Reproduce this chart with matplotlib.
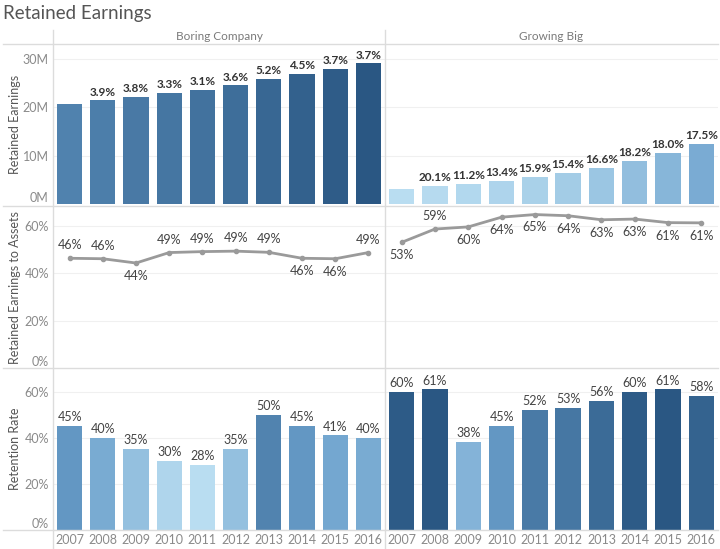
import matplotlib
matplotlib.use("Agg")
import matplotlib.pyplot as plt
from matplotlib.colors import LinearSegmentedColormap, Normalize
from matplotlib.lines import Line2D

plt.rcParams['font.family'] = ['Lato', 'DejaVu Sans']

years = ["2007", "2008", "2009", "2010", "2011", "2012", "2013", "2014", "2015", "2016"]
companies = ["Boring Company", "Growing Big"]

# retained earnings, millions
earn_boring = [20.6, 21.4, 22.2, 22.9, 23.6, 24.5, 25.8, 26.9, 27.9, 29.0]
earn_growing = [3.2, 3.8, 4.25, 4.85, 5.6, 6.5, 7.6, 9.0, 10.6, 12.5]
growth_boring = ["", "3.9%", "3.8%", "3.3%", "3.1%", "3.6%", "5.2%", "4.5%", "3.7%", "3.7%"]
growth_growing = ["", "20.1%", "11.2%", "13.4%", "15.9%", "15.4%", "16.6%", "18.2%", "18.0%", "17.5%"]

# retained earnings to assets, %
rta_boring = [46.4, 46.2, 44.4, 48.8, 49.2, 49.4, 48.9, 46.4, 46.2, 48.8]
rta_growing = [53.1, 58.7, 59.6, 63.7, 64.8, 64.3, 62.6, 62.9, 61.4, 61.3]
rta_pos_boring = ["a", "a", "b", "a", "a", "a", "a", "b", "b", "a"]
rta_pos_growing = ["b", "a", "b", "b", "b", "b", "b", "b", "b", "b"]

# retention rate, %
ret_boring = [45, 40, 35, 30, 28, 35, 50, 45, 41, 40]
ret_growing = [60, 61, 38, 45, 52, 53, 56, 60, 61, 58]

W, H = 720, 549
fig = plt.figure(figsize=(7.2, 5.49), dpi=100)

cmap = LinearSegmentedColormap.from_list("tab_blue", [(0, "#b9ddf1"), (0.45, "#6a9fcb"), (1, "#2a5783")])
norm_earn = Normalize(min(earn_growing), max(earn_boring))
norm_ret = Normalize(min(ret_boring + ret_growing), max(ret_boring + ret_growing))

TICK = "#8a8a8a"
TXT = "#444444"
GRID = "#f0f0f0"
LINE = "#dcdcdc"


def px_axes(x0, y0, x1, y1):
    return fig.add_axes([x0 / W, 1 - y1 / H, (x1 - x0) / W, (y1 - y0) / H])


def clean(ax, ymax, ticks, tlabels, left):
    ax.set_xlim(-0.5, 9.5)
    ax.set_ylim(0, ymax)
    for s in ax.spines.values():
        s.set_visible(False)
    ax.set_xticks([])
    ax.set_yticks(ticks)
    for t in ticks:
        ax.axhline(t, color=GRID, lw=0.8, zorder=0)
    if left:
        ax.set_yticklabels(tlabels, color=TICK, fontsize=9)
        ax.tick_params(axis="y", length=0, pad=3)
        ax.get_yticklabels()[0].set_va("bottom")
    else:
        ax.set_yticklabels([])
        ax.tick_params(axis="y", length=0)
    ax.patch.set_alpha(0)


xl0, xmid, xr1 = 53, 385, 718
rows = [(45, 204.5), (206, 368.5), (368, 529.5)]
xs = range(len(years))

# top: retained earnings
for col, (vals, labs) in enumerate([(earn_boring, growth_boring), (earn_growing, growth_growing)]):
    x0, x1 = (xl0, xmid) if col == 0 else (xmid, xr1)
    ax = px_axes(x0, rows[0][0], x1, rows[0][1])
    clean(ax, 32.8, [0, 10, 20, 30], ["0M", "10M", "20M", "30M"], col == 0)
    ax.bar(xs, vals, width=0.76, color=[cmap(norm_earn(v)) for v in vals], zorder=2)
    for i, (v, l) in enumerate(zip(vals, labs)):
        if l:
            ax.annotate(l, (i, v), xytext=(0, 2), textcoords="offset points", ha="center", va="bottom",
                        fontsize=8.5, fontweight="bold", color="#333333")
    if col == 0:
        ax.set_ylabel("Retained Earnings", color="#555555", fontsize=9)

# middle: retained earnings to assets
for col, (vals, pos) in enumerate([(rta_boring, rta_pos_boring), (rta_growing, rta_pos_growing)]):
    x0, x1 = (xl0, xmid) if col == 0 else (xmid, xr1)
    ax = px_axes(x0, rows[1][0], x1, rows[1][1])
    clean(ax, 68.4, [0, 20, 40, 60], ["0%", "20%", "40%", "60%"], col == 0)
    ax.plot(xs, vals, color="#9a9a9a", lw=2, marker="o", ms=3, zorder=3, clip_on=False)
    for i, (v, p) in enumerate(zip(vals, pos)):
        dy = 5 if p == "a" else -5
        ax.annotate(f"{round(v)}%", (i, v), xytext=(0, dy), textcoords="offset points", ha="center",
                    va="bottom" if p == "a" else "top", fontsize=9, color=TXT)
    if col == 0:
        ax.set_ylabel("Retained Earnings to Assets", color="#555555", fontsize=9)

# bottom: retention rate
for col, vals in enumerate([ret_boring, ret_growing]):
    x0, x1 = (xl0, xmid) if col == 0 else (xmid, xr1)
    ax = px_axes(x0, rows[2][0], x1, rows[2][1])
    clean(ax, 70.3, [0, 20, 40, 60], ["0%", "20%", "40%", "60%"], col == 0)
    ax.bar(xs, vals, width=0.76, color=[cmap(norm_ret(v)) for v in vals], zorder=2)
    for i, v in enumerate(vals):
        ax.annotate(f"{v}%", (i, v), xytext=(0, 2), textcoords="offset points", ha="center", va="bottom",
                    fontsize=9, color=TXT)
    ax.set_xticks(list(xs))
    ax.set_xticklabels(years, color=TICK, fontsize=9)
    ax.tick_params(axis="x", length=0, pad=3)
    if col == 0:
        ax.set_ylabel("Retention Rate", color="#555555", fontsize=9)

# align y labels
for a in fig.axes[::2]:
    a.yaxis.set_label_coords(-32 / 332, 0.5)


def hline(y, x0=3, x1=718):
    fig.add_artist(Line2D([x0 / W, x1 / W], [1 - y / H, 1 - y / H], color=LINE, lw=1))


def vline(x, y0=30, y1=549):
    fig.add_artist(Line2D([x / W, x / W], [1 - y0 / H, 1 - y1 / H], color=LINE, lw=1))


hline(44)
hline(206)
hline(368)
hline(530)
vline(xl0)
vline(xmid)

fig.text(3 / W, 1 - 14 / H, "Retained Earnings", fontsize=13.5, color="#555555", va="center", ha="left")
fig.text((xl0 + xmid) / 2 / W, 1 - 37 / H, companies[0], fontsize=8.5, color="#7a7a7a", ha="center", va="center")
fig.text((xmid + xr1) / 2 / W, 1 - 37 / H, companies[1], fontsize=8.5, color="#7a7a7a", ha="center", va="center")

fig.savefig("out.png", dpi=100)
